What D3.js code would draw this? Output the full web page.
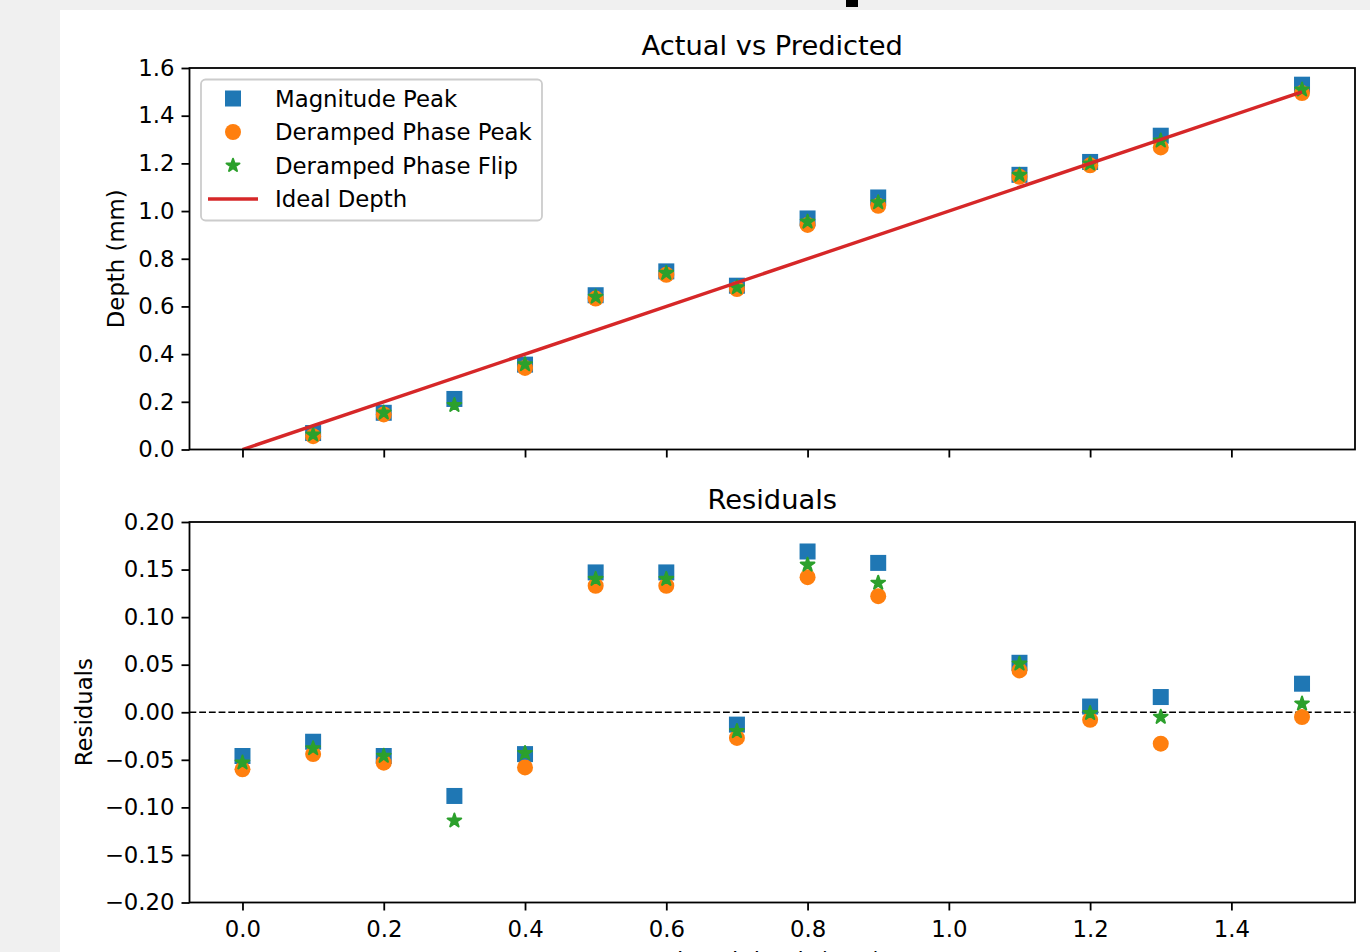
<!DOCTYPE html>
<html>
<head>
<meta charset="utf-8">
<script src="https://cdn.jsdelivr.net/npm/d3@7"></script>
<style>
body { margin: 0; background: #f0f0f0; overflow: hidden; }
svg text { font-family: "DejaVu Sans", sans-serif; fill: #000; }
</style>
</head>
<body>
<script>
// datos
var profundidades = [0.0, 0.1, 0.2, 0.3, 0.4, 0.5, 0.6, 0.7, 0.8, 0.9, 1.1, 1.2, 1.3, 1.5];
var magnitudPico = [-0.046, 0.069, 0.154, 0.212, 0.356, 0.647, 0.747, 0.687, 0.969, 1.057, 1.152, 1.206, 1.316, 1.530];
var fasePico = [-0.060, 0.056, 0.147, null, 0.342, 0.633, 0.733, 0.673, 0.942, 1.022, 1.144, 1.192, 1.267, 1.495];
var faseFlip = [-0.053, 0.062, 0.154, 0.186, 0.357, 0.640, 0.740, 0.680, 0.955, 1.036, 1.151, 1.199, 1.295, 1.509];
var resMagnitud = [-0.046, -0.031, -0.046, -0.088, -0.044, 0.147, 0.147, -0.013, 0.169, 0.157, 0.052, 0.006, 0.016, 0.030];
var resFasePico = [-0.060, -0.044, -0.053, null, -0.058, 0.133, 0.133, -0.027, 0.142, 0.122, 0.044, -0.008, -0.033, -0.005];
var resFaseFlip = [-0.053, -0.038, -0.046, -0.114, -0.043, 0.140, 0.140, -0.020, 0.155, 0.136, 0.051, -0.001, -0.005, 0.009];
var idealX = [0, 1.5];
var ticksX = [0, 0.2, 0.4, 0.6, 0.8, 1.0, 1.2, 1.4];
var ticksArriba = [0, 0.2, 0.4, 0.6, 0.8, 1.0, 1.2, 1.4, 1.6];
var ticksAbajo = [-0.2, -0.15, -0.1, -0.05, 0, 0.05, 0.1, 0.15, 0.2];
var series = ["Magnitude Peak", "Deramped Phase Peak", "Deramped Phase Flip", "Ideal Depth"];
var colores = ["#1f77b4", "#ff7f0e", "#2ca02c", "#d62728"];

var ancho = 1370, alto = 952;
var svg = d3.select("body").append("svg")
  .attr("width", ancho).attr("height", alto);

// fondo blanco de la figura
svg.append("rect").attr("x", 60).attr("y", 10).attr("width", ancho - 60).attr("height", alto - 10).attr("fill", "#fff");
// pedazo de texto cortado arriba
svg.append("rect").attr("x", 846).attr("y", 0).attr("width", 12).attr("height", 7).attr("fill", "#000");

var izq = 189.5, der = 1355;
var escalaX = d3.scaleLinear().domain([-0.075, 1.575]).range([izq, der]);
var yArriba = d3.scaleLinear().domain([0, 1.6]).range([449.5, 68]);
var yAbajo = d3.scaleLinear().domain([-0.2, 0.2]).range([902.5, 522]);

function estrella(R) {
  var r = R * 0.381966, p = [];
  for (var i = 0; i < 10; i++) {
    var a = -Math.PI / 2 + i * Math.PI / 5;
    var rr = i % 2 ? r : R;
    p.push([rr * Math.cos(a), rr * Math.sin(a)]);
  }
  return "M" + p.map(function(d){ return d[0].toFixed(2) + "," + d[1].toFixed(2); }).join("L") + "Z";
}

function dibujarPuntos(g, valores, tipo, escalaY) {
  var datos = profundidades.map(function(x, i){ return {x: x, y: valores[i]}; })
    .filter(function(d){ return d.y !== null; });
  if (tipo === 0) {
    g.selectAll(null).data(datos).enter().append("rect")
      .attr("x", function(d){ return escalaX(d.x) - 8; })
      .attr("y", function(d){ return escalaY(d.y) - 8; })
      .attr("width", 16).attr("height", 16)
      .attr("fill", colores[0]);
  } else if (tipo === 1) {
    g.selectAll(null).data(datos).enter().append("circle")
      .attr("cx", function(d){ return escalaX(d.x); })
      .attr("cy", function(d){ return escalaY(d.y); })
      .attr("r", 8)
      .attr("fill", colores[1]);
  } else {
    g.selectAll(null).data(datos).enter().append("path")
      .attr("d", estrella(7.2))
      .attr("transform", function(d){ return "translate(" + escalaX(d.x) + "," + escalaY(d.y) + ")"; })
      .attr("fill", colores[2])
      .attr("stroke", colores[2]).attr("stroke-width", 2).attr("stroke-linejoin", "round");
  }
}

function ejes(escalaY, ticksY, formato, conEtiquetasX) {
  var y0 = escalaY.range()[0];
  var ejeY = svg.append("g").attr("transform", "translate(" + izq + ",0)")
    .call(d3.axisLeft(escalaY).tickValues(ticksY).tickFormat(d3.format(formato)).tickSize(8).tickPadding(7));
  var ejeX = svg.append("g").attr("transform", "translate(0," + y0 + ")")
    .call(d3.axisBottom(escalaX).tickValues(ticksX).tickFormat(conEtiquetasX ? d3.format(".1f") : "").tickSize(8).tickPadding(10));
  [ejeY, ejeX].forEach(function(e){
    e.select(".domain").remove();
    e.selectAll("line").attr("stroke", "#000").attr("stroke-width", 1.8);
    e.selectAll("text").attr("font-size", 22.8).attr("font-family", "DejaVu Sans");
  });
  // marco
  svg.append("rect")
    .attr("x", izq).attr("y", escalaY.range()[1])
    .attr("width", der - izq).attr("height", y0 - escalaY.range()[1])
    .attr("fill", "none").attr("stroke", "#000").attr("stroke-width", 1.8);
}

// ----- grafico de arriba -----
svg.append("clipPath").attr("id", "clipA").append("rect")
  .attr("x", izq).attr("y", 68).attr("width", der - izq).attr("height", 449.5 - 68);
var gA = svg.append("g").attr("clip-path", "url(#clipA)");
dibujarPuntos(gA, magnitudPico, 0, yArriba);
dibujarPuntos(gA, fasePico, 1, yArriba);
dibujarPuntos(gA, faseFlip, 2, yArriba);
gA.append("line")
  .attr("x1", escalaX(idealX[0])).attr("y1", yArriba(idealX[0]))
  .attr("x2", escalaX(idealX[1])).attr("y2", yArriba(idealX[1]))
  .attr("stroke", colores[3]).attr("stroke-width", 3.4);
ejes(yArriba, ticksArriba, ".1f", false);

svg.append("text").attr("x", (izq + der) / 2).attr("y", 55)
  .attr("text-anchor", "middle").attr("font-size", 27.3).text("Actual vs Predicted");
svg.append("text").attr("transform", "translate(124," + (68 + 449.5) / 2 + ") rotate(-90)")
  .attr("text-anchor", "middle").attr("font-size", 22.8).text("Depth (mm)");

// leyenda
var leyenda = svg.append("g");
leyenda.append("rect").attr("x", 201).attr("y", 79.5).attr("width", 341).attr("height", 141)
  .attr("rx", 4.5).attr("fill", "#fff").attr("fill-opacity", 0.8)
  .attr("stroke", "#cccccc").attr("stroke-width", 1.8);
var filas = [98.5, 132, 165.5, 199];
leyenda.append("rect").attr("x", 233 - 8).attr("y", filas[0] - 8).attr("width", 16).attr("height", 16).attr("fill", colores[0]);
leyenda.append("circle").attr("cx", 233).attr("cy", filas[1]).attr("r", 8).attr("fill", colores[1]);
leyenda.append("path").attr("d", estrella(6.8)).attr("transform", "translate(233," + filas[2] + ")")
  .attr("fill", colores[2]).attr("stroke", colores[2]).attr("stroke-width", 2).attr("stroke-linejoin", "round");
leyenda.append("line").attr("x1", 208).attr("x2", 258).attr("y1", filas[3]).attr("y2", filas[3])
  .attr("stroke", colores[3]).attr("stroke-width", 3.4);
leyenda.selectAll("text.ley").data(series).enter().append("text")
  .attr("x", 275).attr("y", function(d, i){ return filas[i] + 8; })
  .attr("font-size", 22.8).text(function(d){ return d; });

// ----- residuos -----
svg.append("clipPath").attr("id", "clipB").append("rect")
  .attr("x", izq).attr("y", 522).attr("width", der - izq).attr("height", 902.5 - 522);
var gB = svg.append("g").attr("clip-path", "url(#clipB)");
gB.append("line")
  .attr("x1", izq).attr("x2", der).attr("y1", yAbajo(0)).attr("y2", yAbajo(0))
  .attr("stroke", "#000").attr("stroke-width", 1.4).attr("stroke-dasharray", "6.8,2.9");
dibujarPuntos(gB, resMagnitud, 0, yAbajo);
dibujarPuntos(gB, resFasePico, 1, yAbajo);
dibujarPuntos(gB, resFaseFlip, 2, yAbajo);
ejes(yAbajo, ticksAbajo, ".2f", true);

svg.append("text").attr("x", (izq + der) / 2).attr("y", 509)
  .attr("text-anchor", "middle").attr("font-size", 27.3).text("Residuals");
svg.append("text").attr("transform", "translate(92," + (522 + 902.5) / 2 + ") rotate(-90)")
  .attr("text-anchor", "middle").attr("font-size", 22.8).text("Residuals");
// etiqueta del eje x (cortada por el borde, como en el original)
svg.append("text").attr("x", (izq + der) / 2).attr("y", 969)
  .attr("text-anchor", "middle").attr("font-size", 22.8).text("Placed depth (mm)");
</script>
</body>
</html>
